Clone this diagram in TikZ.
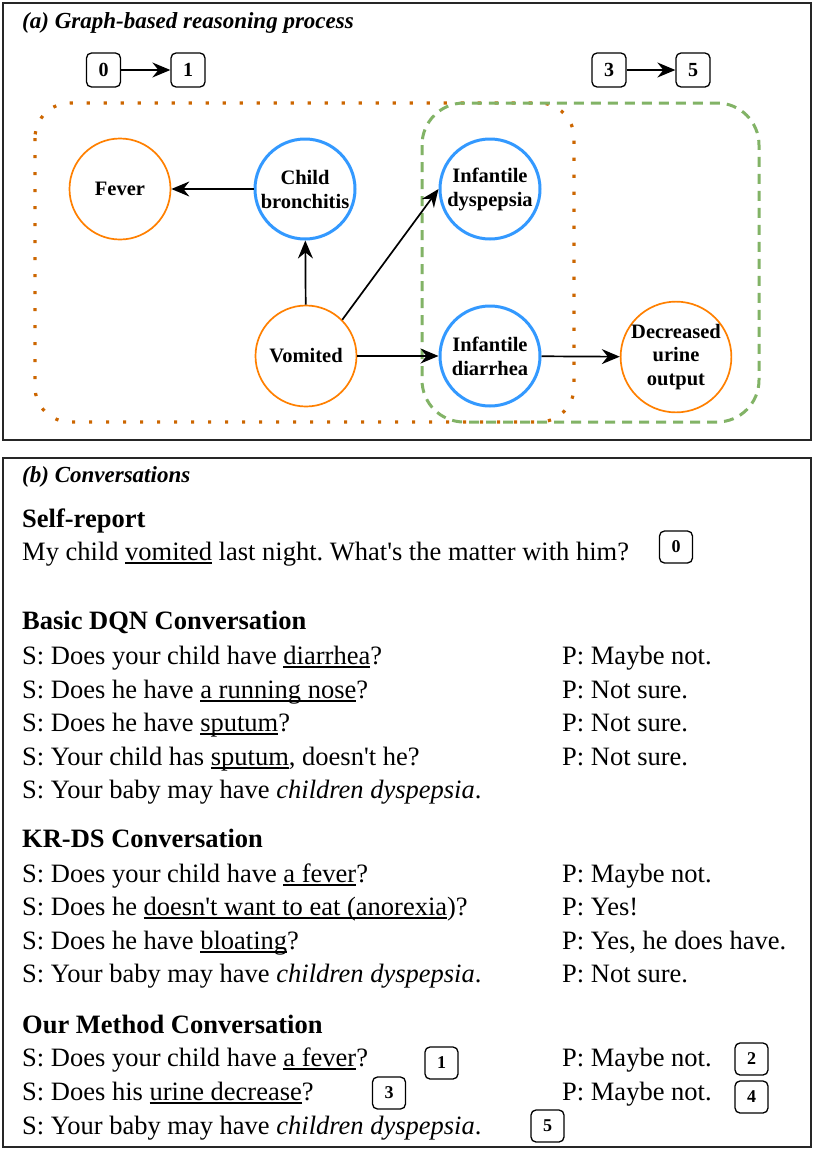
\documentclass[tikz,border=0pt]{standalone}
\usepackage{fontspec}
\setmainfont{Liberation Serif}
\usetikzlibrary{arrows.meta}
\definecolor{orng}{RGB}{255,128,0}
\definecolor{blu}{RGB}{51,153,255}
\definecolor{dotor}{RGB}{204,102,0}
\definecolor{grn}{RGB}{130,179,102}
\newsavebox\ulbox
\newcommand\ulx[1]{\sbox\ulbox{#1}\rlap{\rule[-3.5pt]{\wd\ulbox}{1.3pt}}\usebox\ulbox}
\frenchspacing
\begin{document}
\begin{tikzpicture}[x=1pt,y=-1pt,
  sym/.style={circle, draw=orng, line width=1.7pt, minimum size=101pt, inner sep=0pt, align=center, font=\fontsize{20.5}{24}\selectfont\bfseries},
  dis/.style={sym, draw=blu, line width=3pt, minimum size=100pt},
  numa/.style={draw, rounded corners=5pt, line width=1.3pt, minimum width=34pt, minimum height=34pt, inner sep=0pt, font=\fontsize{20}{20}\selectfont\bfseries},
  numb/.style={numa, minimum width=33pt, minimum height=32pt, font=\fontsize{18}{18}\selectfont\bfseries},
  arr/.style={-{Stealth[length=18pt,width=15pt,inset=6pt]}, line width=1.7pt},
  txt/.style={anchor=base west, inner sep=0pt, font=\fontsize{26.5}{32}\selectfont},
  hd/.style={txt, font=\fontsize{26.5}{32}\selectfont\bfseries},
  ttl/.style={anchor=base west, inner sep=0pt, font=\fontsize{23}{28}\selectfont\bfseries\itshape},
  panel/.style={draw=black!85, line width=1.5pt}]
\useasboundingbox[fill=white] (0,0) rectangle (830,1154);

% ---------- panel (a)
\draw[panel] (3,3) rectangle (811,440);
\node[ttl] (ta) at (22,28) {(a) Graph-based reasoning process};

\draw[dotor, line width=3.2pt, dash pattern=on 3.2pt off 13.8pt, rounded corners=35pt] (35,103) rectangle (574,422);
\draw[grn, line width=3pt, dash pattern=on 10pt off 7pt, rounded corners=42pt] (422,103) rectangle (759,422);

\node[numa] (n0) at (103.5,70) {0};
\node[numa] (n1) at (188,70) {1};
\node[numa] (n3) at (609,70) {3};
\node[numa] (n5) at (693,70) {5};
\draw[arr] (n0) -- (n1);
\draw[arr] (n3) -- (n5);

\node[sym] (fev) at (120,189) {Fever};
\node[dis] (cb) at (305,189) {Child\\bronchitis};
\node[dis] (dys) at (490,189) {Infantile\\dyspepsia};
\node[sym] (vom) at (306,356) {Vomited};
\node[dis] (dia) at (490,356) {Infantile\\diarrhea};
\node[sym, font=\fontsize{20.5}{23.5}\selectfont\bfseries] (dec) at (676,357) {Decreased\\urine\\output};

\draw[arr] (cb) -- (fev);
\draw[arr] (vom) -- (cb);
\draw[arr] (vom.45) -- (dys.west);
\draw[arr] (vom) -- (dia);
\draw[arr] (dia) -- (dec);

% ---------- panel (b)
\draw[panel] (3,458) rectangle (811,1147);
\node[ttl] (tb) at (22,482) {(b) Conversations};

\node[hd] (h0) at (22,527.5) {Self-report};
\node[txt] (s0) at (22,560) {My child \ulx{vomited} last night. What\textquotesingle s the matter with him?};
\node[numb] (b0) at (676,547) {0};

\node[hd] (h1) at (22,629) {Basic DQN Conversation};
\node[txt] (s11) at (22,664) {S: Does your child have \ulx{diarrhea}?};
\node[txt] (p11) at (562,664) {P: Maybe not.};
\node[txt] (s12) at (22,698) {S: Does he have \ulx{a running nose}?};
\node[txt] (p12) at (562,698) {P: Not sure.};
\node[txt] (s13) at (22,731) {S: Does he have \ulx{sputum}?};
\node[txt] (p13) at (562,731) {P: Not sure.};
\node[txt] (s14) at (22,765) {S: Your child has \ulx{sputum}, doesn\textquotesingle t he?};
\node[txt] (p14) at (562,765) {P: Not sure.};
\node[txt] (s15) at (22,798) {S: Your baby may have \textit{children dyspepsia}.};

\node[hd] (h2) at (22,847) {KR-DS Conversation};
\node[txt] (s21) at (22,882) {S: Does your child have \ulx{a fever}?};
\node[txt] (p21) at (562,882) {P: Maybe not.};
\node[txt] (s22) at (22,915) {S: Does he \ulx{doesn\textquotesingle t want to eat (}\ulx{anorexia})?};
\node[txt] (p22) at (562,915) {P: Yes!};
\node[txt] (s23) at (22,949) {S: Does he have \ulx{bloating}?};
\node[txt] (p23) at (562,949) {P: Yes, he does have.};
\node[txt] (s24) at (22,982) {S: Your baby may have \textit{children dyspepsia}.};
\node[txt] (p24) at (562,982) {P: Not sure.};

\node[hd] (h3) at (22,1033) {Our Method Conversation};
\node[txt] (s31) at (22,1066) {S: Does your child have \ulx{a fever}?};
\node[txt] (p31) at (562,1066) {P: Maybe not.};
\node[txt] (s32) at (22,1100) {S: Does his \ulx{urine decrease}?};
\node[txt] (p32) at (562,1100) {P: Maybe not.};
\node[txt] (s33) at (22,1134) {S: Your baby may have \textit{children dyspepsia}.};

\node[numb] (b1) at (441.5,1063) {1};
\node[numb] (b2) at (751.5,1059) {2};
\node[numb] (b3) at (389,1093) {3};
\node[numb] (b4) at (751.5,1097) {4};
\node[numb] (b5) at (547.5,1126) {5};
\end{tikzpicture}
\end{document}
